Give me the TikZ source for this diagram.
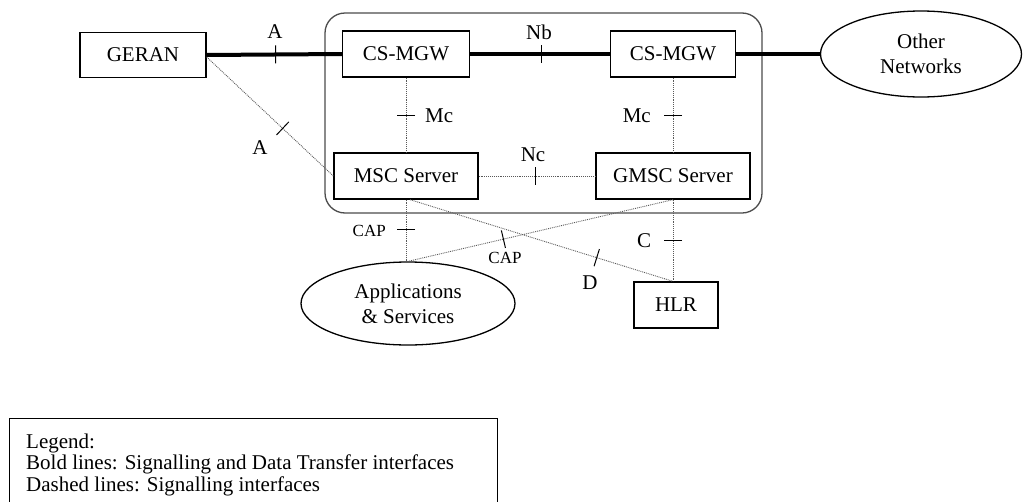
\documentclass[tikz,border=0pt]{standalone}
\usepackage{fontspec}
\setmainfont{Liberation Serif}
\usetikzlibrary{shapes.geometric,calc}
\newcommand\mytick[3]{\draw[tickmark] ($($(#1)!#3!(#2)$)!9pt!90:(#2)$) -- ($($(#1)!#3!(#2)$)!9pt!-90:(#2)$);}
\begin{document}
\begin{tikzpicture}[x=1pt,y=-1pt,
  every node/.style={font=\fontsize{21}{25}\selectfont},
  box/.style={draw, line width=1.3pt, inner sep=0pt},
  oval/.style={draw, ellipse, line width=1.3pt, inner sep=0pt, align=center},
  bold/.style={line width=4pt},
  sig/.style={densely dotted, line width=0.9pt, black!65},
  tickmark/.style={line width=1pt, black},
  lbl/.style={inner sep=0pt},
  small/.style={font=\fontsize{17}{20}\selectfont}]
\useasboundingbox (0,0) rectangle (1023,501);
\clip (0,0) rectangle (1023,501);

% core network container
\node[draw, line width=1.3pt, black!70, rounded corners=20pt, minimum width=437pt, minimum height=200pt, inner sep=0pt] (core) at (543.5,113) {};

% nodes
\node[box, minimum width=126pt, minimum height=45pt] (geran) at (143,55) {GERAN};
\node[box, minimum width=127pt, minimum height=46pt] (mgw1) at (406,54) {CS-MGW};
\node[box, minimum width=125pt, minimum height=46pt] (mgw2) at (673,54) {CS-MGW};
\node[oval, minimum width=201pt, minimum height=86pt] (other) at (921,54) {Other\\Networks};
\node[box, minimum width=144pt, minimum height=46pt] (msc) at (406,176) {MSC Server};
\node[box, minimum width=154pt, minimum height=46pt] (gmsc) at (673,176) {GMSC Server};
\node[oval, minimum width=214pt, minimum height=83pt] (apps) at (408,303.5) {Applications\\\& Services};
\node[box, minimum width=84pt, minimum height=46pt] (hlr) at (676,305) {HLR};

% bold connectors
\draw[bold] (geran.east) -- (mgw1.west);
\draw[bold] (mgw1.east) -- (mgw2.west);
\draw[bold] (mgw2.east) -- (mgw2.east -| other.west);
\mytick{geran.east}{mgw1.west}{0.51}
\mytick{mgw1.east}{mgw2.west}{0.51}
\node[lbl] (lA1) at (275,32) {A};
\node[lbl] (lNb) at (539,32) {Nb};

% signalling connectors
\coordinate (gA) at ([yshift=-2pt]geran.east);
\draw[sig] (gA) -- (msc.west);
\mytick{gA}{msc.west}{0.6}
\node[lbl] (lA2) at (260,148) {A};

\draw[sig] (mgw1.south) -- (msc.north);
\mytick{mgw1.south}{msc.north}{0.5}
\node[lbl, anchor=west] (lMc1) at (425,116) {Mc};

\draw[sig] (mgw2.south) -- (gmsc.north);
\mytick{mgw2.south}{gmsc.north}{0.5}
\node[lbl, anchor=east] (lMc2) at (651,116) {Mc};

\draw[sig] (msc.east) -- (gmsc.west);
\mytick{msc.east}{gmsc.west}{0.49}
\node[lbl] (lNc) at (533,155) {Nc};

\coordinate (appsTop) at (msc.south |- apps.north);
\draw[sig] (msc.south) -- (appsTop);
\mytick{msc.south}{appsTop}{0.49}
\node[lbl, small, anchor=east] (lCap1) at (386,231) {CAP};

\draw[sig] (gmsc.south) -- (apps.north);
\mytick{gmsc.south}{apps.north}{0.64}
\node[lbl, small] (lCap2) at (505,258) {CAP};

\coordinate (hlrTop) at (hlr.north -| gmsc.south);
\coordinate (mscD) at ([xshift=4pt]msc.south);
\draw[sig] (mscD) -- (hlrTop);
\mytick{mscD}{hlrTop}{0.71}
\node[lbl] (lD) at (590,283) {D};

\draw[sig] (gmsc.south) -- (hlrTop);
\mytick{gmsc.south}{hlrTop}{0.5}
\node[lbl] (lC) at (644,241) {C};

% legend
\node[draw, line width=1.3pt, minimum width=488pt, minimum height=110pt, anchor=north west, inner sep=0pt] (legend) at (9,418) {};
\node[lbl, anchor=base west] (lg1) at (26,448) {Legend:};
\node[lbl, anchor=base west] (lg2) at (26,469.5) {Bold lines: Signalling and Data Transfer interfaces};
\node[lbl, anchor=base west] (lg3) at (26,491) {Dashed lines: Signalling interfaces};
\end{tikzpicture}
\end{document}
